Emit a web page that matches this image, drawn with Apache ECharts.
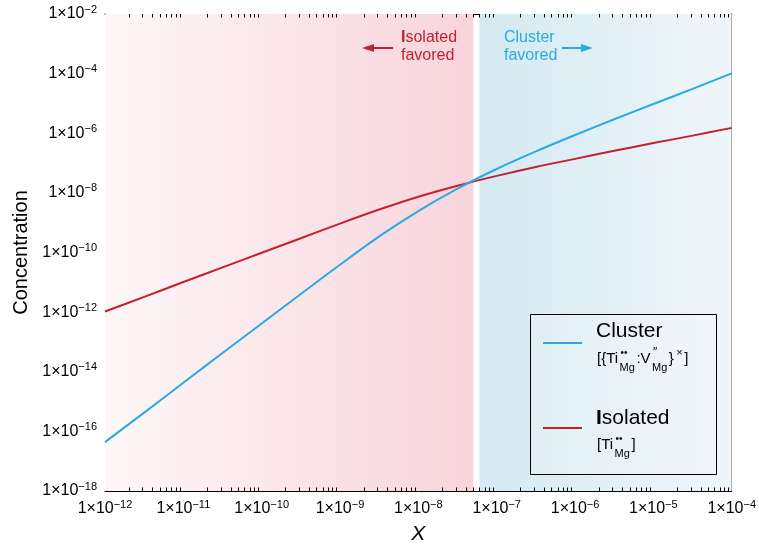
<!DOCTYPE html>
<html>
<head>
<meta charset="utf-8">
<script src="https://cdn.jsdelivr.net/npm/echarts@6/dist/echarts.min.js"></script>
<style>
  html, body { margin: 0; padding: 0; background: #ffffff; }
  #chart { width: 759px; height: 550px; }
</style>
</head>
<body>
<div id="chart"></div>
<script>
// ---- data (log10 values) ----
// log10 of the Ti fraction X
const xLog10 = [-12, -11.5, -11, -10.5, -10, -9.5, -9, -8.5, -8, -7.5, -7, -6.5, -6, -5.5, -5, -4.5, -4];
// log10 concentration of the cluster {Ti_Mg : V_Mg}
const clusterLog10 = [-16.36, -15.37, -14.37, -13.37, -12.38, -11.39, -10.41, -9.46, -8.61, -7.86, -7.20, -6.61, -6.06, -5.53, -5.02, -4.51, -3.99];
// log10 concentration of isolated Ti_Mg
const isolatedLog10 = [-11.98, -11.49, -10.99, -10.50, -10.01, -9.52, -9.03, -8.56, -8.13, -7.76, -7.43, -7.13, -6.86, -6.59, -6.33, -6.08, -5.82];
// shaded regimes, log10 X
const isolatedRegime = [-12, -7.30];
const clusterRegime = [-7.22, -4];
// tick label exponents
const xTickExponents = [-12, -11, -10, -9, -8, -7, -6, -5, -4];
const yTickExponents = [-18, -16, -14, -12, -10, -8, -6, -4, -2];

const FONT = "'Liberation Sans', Arial, Helvetica, sans-serif";
const RED = '#c4202f';
const BLUE = '#29abe2';

const xMin = xTickExponents[0], xMax = xTickExponents[xTickExponents.length - 1];
const yMin = yTickExponents[0], yMax = yTickExponents[yTickExponents.length - 1];

function powLabel(v, list) {
  const e = Math.round(v);
  if (list.indexOf(e) < 0) return '';
  return '{m|1×10}{s|' + String(e).replace('-', '\u2212') + '}';
}
const richPow = {
  m: { fontSize: 16, lineHeight: 20, fontFamily: FONT, color: '#000' },
  s: { fontSize: 11, lineHeight: 11, fontFamily: FONT, color: '#000', verticalAlign: 'top' }
};

// minor ticks for the log-scaled X axis (2..9 within each decade)
const xMinorTicks = [];
for (let e = xMin; e < xMax; e++) {
  for (let k = 2; k <= 9; k++) xMinorTicks.push([e + Math.log10(k), yMin]);
}

const zip = (xs, ys) => xs.map((x, i) => [x, ys[i]]);

// ---- text helpers for Kröger–Vink notation ----
const measureCtx = document.createElement('canvas').getContext('2d');
function textWidth(t, size) {
  measureCtx.font = size + 'px ' + FONT;
  return measureCtx.measureText(t).width;
}
function formulaEls(x0, yc, pieces) {
  const MAIN = 15, SUB = 11, SUP = 11, GAP = 1.5;
  const els = [];
  let x = x0;
  const add = (t, size, dy, xx) => els.push({
    type: 'text', x: xx, y: yc + dy, silent: true, z: 20,
    style: { text: t, fontSize: size, fontFamily: FONT, fill: '#000', align: 'left', verticalAlign: 'middle' }
  });
  pieces.forEach(p => {
    if (p.t) {
      add(p.t, MAIN, 0, x);
      x += textWidth(p.t, MAIN) + GAP;
    } else {
      let w = 0;
      if (p.sup) { add(p.sup, p.supSize || SUP, -6, x + 1); w = Math.max(w, textWidth(p.sup, p.supSize || SUP) + 1); }
      if (p.sub) { add(p.sub, SUB, 9, x); w = Math.max(w, textWidth(p.sub, SUB)); }
      x += w + GAP;
    }
  });
  return els;
}

const chart = echarts.init(document.getElementById('chart'), null, { renderer: 'canvas' });

const commonY = {
  type: 'value', min: yMin, max: yMax, interval: 2,
  axisLine: { show: true, onZero: false, lineStyle: { color: '#000', width: 1 } },
  axisTick: { show: true, inside: true, length: 6, lineStyle: { color: '#000' } },
  minorTick: { show: true, splitNumber: 5, length: 4, lineStyle: { color: '#000' } },
  splitLine: { show: false }
};
const commonX = {
  type: 'value', min: xMin, max: xMax, interval: 1,
  axisLine: { show: true, onZero: false, lineStyle: { color: '#000', width: 1 } },
  axisTick: { show: true, inside: true, length: 6, lineStyle: { color: '#000' } },
  splitLine: { show: false }
};

const legendAndNotes = [
  // regime annotations
  {
    type: 'text', x: 401, y: 47,
    style: {
      text: '{b|I}{n|solated}\n{n|favored}', align: 'left', verticalAlign: 'middle',
      rich: {
        b: { fontSize: 16, fontFamily: FONT, fill: RED, fontWeight: 'bold', lineHeight: 18 },
        n: { fontSize: 16, fontFamily: FONT, fill: RED, lineHeight: 18 }
      }
    }
  },
  { type: 'line', shape: { x1: 393, y1: 48, x2: 371, y2: 48 }, style: { stroke: RED, lineWidth: 2 } },
  { type: 'polygon', shape: { points: [[362, 48], [374, 44], [374, 52]] }, style: { fill: RED } },
  {
    type: 'text', x: 504, y: 47,
    style: {
      text: 'Cluster\nfavored', align: 'left', verticalAlign: 'middle',
      fontSize: 16, fontFamily: FONT, fill: BLUE, lineHeight: 18
    }
  },
  { type: 'line', shape: { x1: 562, y1: 48, x2: 584, y2: 48 }, style: { stroke: BLUE, lineWidth: 2 } },
  { type: 'polygon', shape: { points: [[593, 48], [581, 44], [581, 52]] }, style: { fill: BLUE } },

  // legend box
  {
    type: 'rect',
    shape: { x: 530.5, y: 314.5, width: 186, height: 160 },
    style: { fill: 'rgba(255,255,255,0.18)', stroke: '#000', lineWidth: 1 }
  },
  { type: 'line', shape: { x1: 543, y1: 343, x2: 582, y2: 343 }, style: { stroke: BLUE, lineWidth: 2 } },
  { type: 'text', x: 596, y: 331, style: { text: 'Cluster', fontSize: 21, fontFamily: FONT, fill: '#000', align: 'left', verticalAlign: 'middle' } },
  { type: 'line', shape: { x1: 543, y1: 428, x2: 582, y2: 428 }, style: { stroke: RED, lineWidth: 2 } },
  {
    type: 'text', x: 596, y: 418,
    style: {
      text: '{b|I}{n|solated}', align: 'left', verticalAlign: 'middle',
      rich: {
        b: { fontSize: 21, fontFamily: FONT, fill: '#000', fontWeight: 'bold' },
        n: { fontSize: 21, fontFamily: FONT, fill: '#000' }
      }
    }
  }
].map(el => Object.assign({ silent: true, z: 20 }, el))
  .concat(formulaEls(597, 359, [
    { t: '[{Ti' }, { sup: '••', sub: 'Mg', supSize: 10 }, { t: ':V' }, { sup: '\u2033', sub: 'Mg', supSize: 12 },
    { t: '}' }, { sup: '×', supSize: 11 }, { t: ']' }
  ]))
  .concat(formulaEls(597, 445, [
    { t: '[Ti' }, { sup: '••', sub: 'Mg', supSize: 10 }, { t: ']' }
  ]));

const option = {
  animation: false,
  backgroundColor: '#ffffff',
  grid: { left: 105, right: 26, top: 14, bottom: 58, containLabel: false },
  xAxis: [
    Object.assign({}, commonX, {
      position: 'bottom',
      name: 'X', nameLocation: 'middle', nameGap: 33,
      nameTextStyle: { fontFamily: FONT, fontSize: 21, fontStyle: 'italic', color: '#000' },
      axisLabel: { margin: 8, formatter: v => powLabel(v, xTickExponents), rich: richPow }
    }),
    Object.assign({}, commonX, { position: 'top', axisLabel: { show: false } })
  ],
  yAxis: [
    Object.assign({}, commonY, {
      position: 'left',
      name: 'Concentration', nameLocation: 'middle', nameGap: 72, nameRotate: 90,
      nameTextStyle: { fontFamily: FONT, fontSize: 20, color: '#000' },
      axisLabel: { margin: 8, formatter: v => powLabel(v, yTickExponents), rich: richPow }
    }),
    Object.assign({}, commonY, { position: 'right', axisLabel: { show: false } })
  ],
  series: [
    {
      name: 'regimes', type: 'line', data: [], silent: true, z: 1,
      markArea: {
        silent: true,
        data: [
          [{ xAxis: isolatedRegime[0], itemStyle: { color: new echarts.graphic.LinearGradient(0, 0, 1, 0, [
              { offset: 0, color: '#fef7f8' }, { offset: 1, color: '#f8d4db' }]) } },
           { xAxis: isolatedRegime[1] }],
          [{ xAxis: clusterRegime[0], itemStyle: { color: new echarts.graphic.LinearGradient(0, 0, 1, 0, [
              { offset: 0, color: '#d4e9f2' }, { offset: 1, color: '#f0f6fa' }]) } },
           { xAxis: clusterRegime[1] }]
        ]
      }
    },
    {
      name: 'Isolated', type: 'line', smooth: 0.3, showSymbol: false, z: 3,
      data: zip(xLog10, isolatedLog10),
      lineStyle: { color: RED, width: 2 }, itemStyle: { color: RED }
    },
    {
      name: 'Cluster', type: 'line', smooth: 0.3, showSymbol: false, z: 3,
      data: zip(xLog10, clusterLog10),
      lineStyle: { color: BLUE, width: 2 }, itemStyle: { color: BLUE }
    },
    {
      name: 'xMinorTicks', type: 'custom', silent: true, clip: false, z: 6,
      data: xMinorTicks,
      encode: { x: 0, y: 1 },
      renderItem: function (params, api) {
        const x = api.value(0);
        const b = api.coord([x, yMin]);
        const t = api.coord([x, yMax]);
        const px = Math.round(b[0]) + 0.5;
        return {
          type: 'group',
          children: [
            { type: 'line', shape: { x1: px, y1: b[1], x2: px, y2: b[1] - 3.5 }, style: { stroke: '#000', lineWidth: 1 } },
            { type: 'line', shape: { x1: px, y1: t[1], x2: px, y2: t[1] + 3.5 }, style: { stroke: '#000', lineWidth: 1 } }
          ]
        };
      }
    }
  ],
  graphic: legendAndNotes
};

chart.setOption(option);
</script>
</body>
</html>
